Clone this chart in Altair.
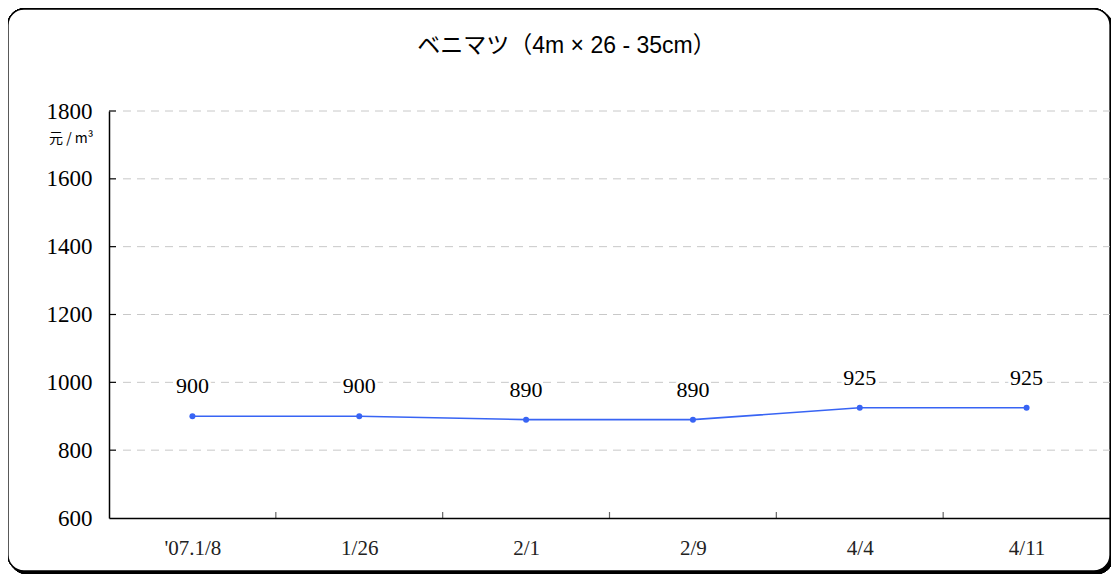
import altair as alt
import pandas as pd

dates = ["'07.1/8", "1/26", "2/1", "2/9", "4/4", "4/11"]
prices = [900, 900, 890, 890, 925, 925]
y_ticks = [800, 1000, 1200, 1400, 1600, 1800]
y_labels = [600, 800, 1000, 1200, 1400, 1600, 1800]

W, H = 1001, 407
LINE = "#3864f4"
SERIF = "'Liberation Serif', 'Times New Roman', Times, serif"
SANS = "'Noto Sans CJK JP', 'Liberation Sans', sans-serif"
TITLE_FONT = "'Liberation Sans', 'Noto Sans CJK JP', sans-serif"

df = pd.DataFrame({"date": dates, "price": prices})
grid_df = pd.DataFrame({"v": y_ticks})
xtick_df = pd.DataFrame({"date": dates[:-1]})

xscale = alt.Scale(type="point", domain=dates, padding=0.5)
yscale = alt.Scale(domain=[600, 1800])
STEP = W / 6.0

xenc = alt.X("date:N", scale=xscale, sort=dates,
             axis=alt.Axis(title=None, ticks=False, labelAngle=0, labelAlign="center",
                           labelFont=SERIF, labelFontSize=21, labelColor="#222",
                           labelPadding=30, domainColor="black", domainWidth=1.5,
                           grid=False, zindex=1))
yenc = alt.Y("price:Q", scale=yscale,
             axis=alt.Axis(values=y_labels, format="d", ticks=False, grid=False,
                           labelFont=SERIF, labelFontSize=23, labelColor="black",
                           labelPadding=17, domainColor="black", domainWidth=1.5, zindex=1,
                           title="元 / m³", titleAngle=0, titleFont=SANS,
                           titleFontSize=14, titleFontWeight="normal", titleAlign="right",
                           titleBaseline="middle", titleX=-16, titleY=27, titleColor="black"))

base = alt.Chart(df)

shadow = base.mark_rect(fill="black", cornerRadius=16).encode(
    x=alt.value(-99), x2=alt.value(W + 3), y=alt.value(-100), y2=alt.value(463))
frame = base.mark_rect(fill="white", stroke="black", strokeWidth=1.3, cornerRadius=16).encode(
    x=alt.value(-101), x2=alt.value(W), y=alt.value(-102), y2=alt.value(460))

grid = alt.Chart(grid_df).mark_rule(color="#c8c8c8", strokeDash=[8, 6], strokeWidth=1).encode(
    y=alt.Y("v:Q", scale=yscale), x=alt.value(14), x2=alt.value(W))
yticks = alt.Chart(grid_df).mark_rule(color="black", strokeWidth=1.2).encode(
    y=alt.Y("v:Q", scale=yscale), x=alt.value(0), x2=alt.value(7))
xticks = alt.Chart(xtick_df).mark_rule(color="#666", strokeWidth=1.2, xOffset=STEP / 2).encode(
    x=alt.X("date:N", scale=xscale, sort=dates), y=alt.value(H), y2=alt.value(H - 6))

line = base.mark_line(color=LINE, strokeWidth=1.6).encode(x=xenc, y=yenc)
pts = base.mark_circle(color=LINE, opacity=1, size=36).encode(x="date:N", y="price:Q")
halo = base.mark_text(dy=-30, align="center", font=SERIF, fontSize=22, stroke="white",
                      strokeWidth=6, color="white").encode(x="date:N", y="price:Q", text="price:Q")
labels = base.mark_text(dy=-30, align="center", font=SERIF, fontSize=22, color="black").encode(
    x="date:N", y="price:Q", text="price:Q")

chart = alt.layer(shadow, frame, grid, yticks, xticks, line, pts, halo, labels).properties(
    width=W, height=H,
    title=alt.TitleParams("ベニマツ（4m × 26 - 35cm）", font=TITLE_FONT, fontSize=23,
                          fontWeight="normal", color="black", anchor="middle", dx=-43,
                          baseline="middle", offset=-61),
    autosize=alt.AutoSizeParams(type="none"),
    padding={"left": 101, "top": 103, "right": 1, "bottom": 56},
    background="white",
).configure_view(stroke=None)

chart.save("out.html", embed_options={"renderer": "svg", "actions": False})
